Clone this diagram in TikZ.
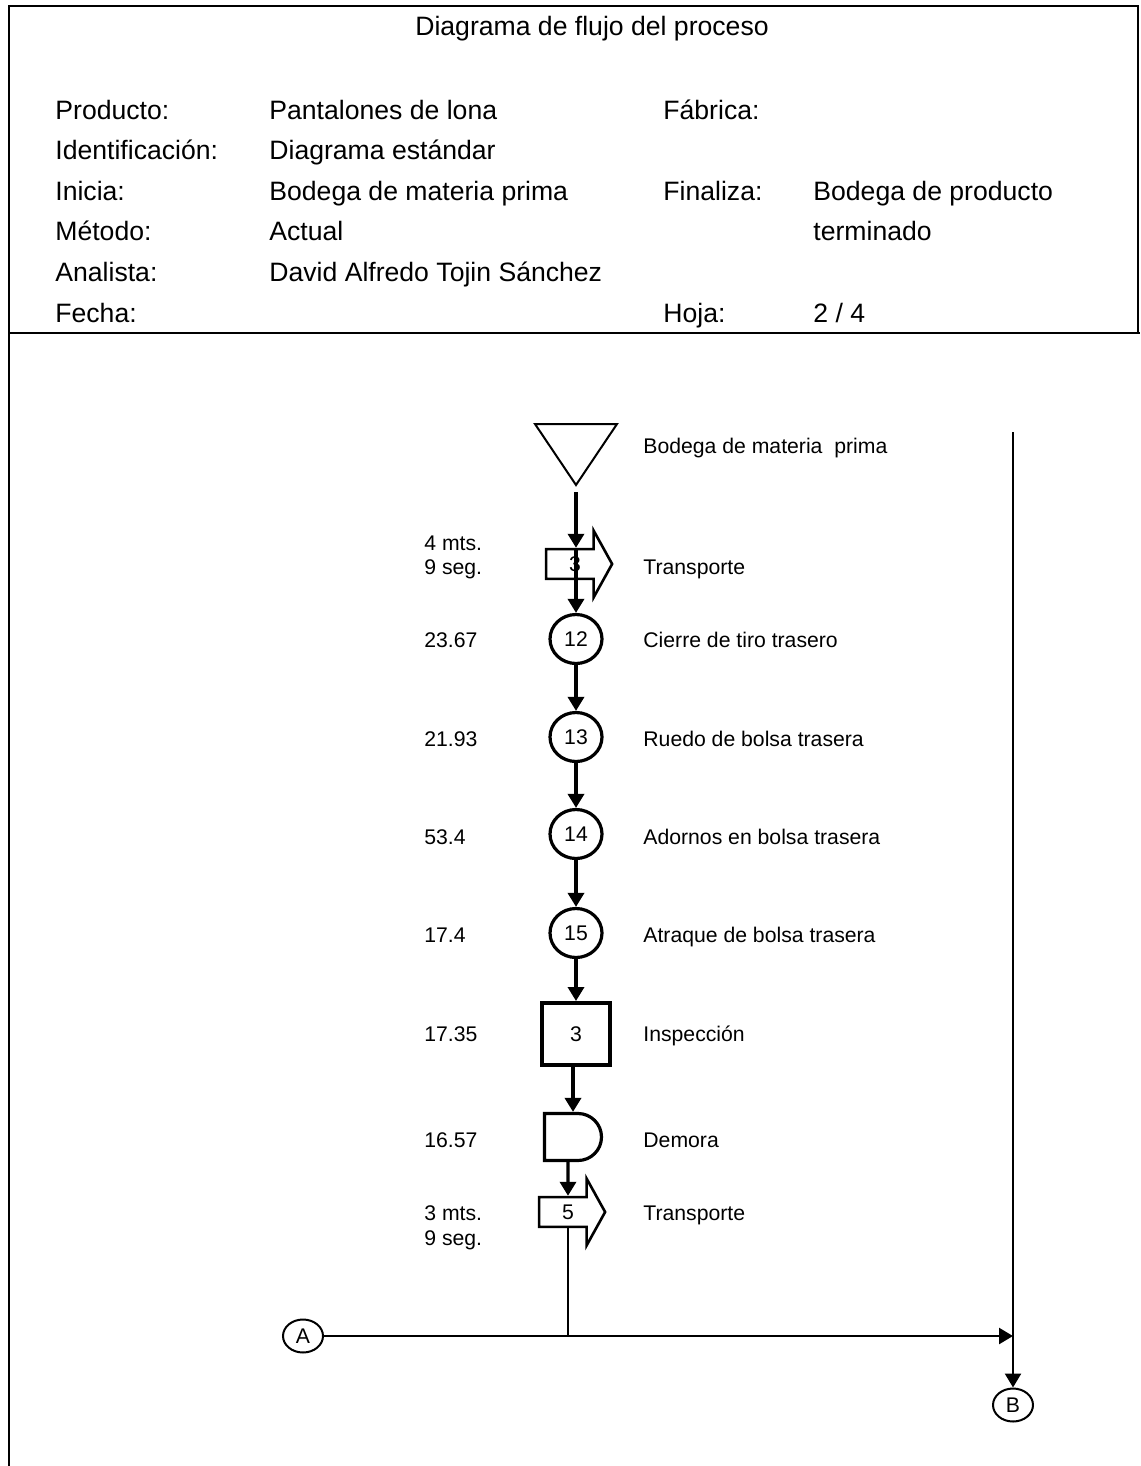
\documentclass[tikz,border=0pt]{standalone}
\usepackage{fontspec}
\setmainfont{Liberation Sans}
\usetikzlibrary{positioning,arrows.meta,shapes.geometric,shapes.arrows,shapes.misc}
\tikzset{
  frame/.style={line width=1.3pt},
  hd/.style={anchor=west,inner sep=0pt,font=\fontsize{13.3}{16}\selectfont,text height=9.5pt,text depth=0pt},
  lb/.style={anchor=west,inner sep=0pt,font=\fontsize{10.6}{13}\selectfont,text height=7.6pt,text depth=0pt},
  opn/.style={ellipse,draw,line width=1.6pt,minimum width=26pt,minimum height=24.5pt,inner sep=0pt,text height=7.6pt,text depth=0pt,font=\fontsize{10.6}{13}\selectfont},
  insp/.style={rectangle,draw,line width=2pt,minimum width=34pt,minimum height=31pt,text height=7.6pt,text depth=0pt,font=\fontsize{10.6}{13}\selectfont},
  dly/.style={rounded rectangle,rounded rectangle left arc=none,draw,line width=1.6pt,minimum width=28.5pt,minimum height=23.5pt,inner sep=0pt},
  trp/.style={single arrow,draw,line width=1.3pt,minimum height=33pt,minimum width=32pt,single arrow head extend=9.2pt,single arrow tip angle=122,inner ysep=3pt,inner xsep=2pt,text height=7.6pt,text depth=0pt,font=\fontsize{10.6}{13}\selectfont},
  stor/.style={line width=1pt},
  cnx/.style={ellipse,draw,line width=1pt,minimum width=20pt,minimum height=16.5pt,inner sep=0pt,text height=7.6pt,text depth=0pt,font=\fontsize{10.6}{13}\selectfont},
  conn/.style={line width=1.7pt,-{Triangle[length=7pt,width=8pt]}},
  tline/.style={line width=1.2pt},
  tconn/.style={tline,-{Triangle[length=7pt,width=8pt]}}
}
\begin{document}
\begin{tikzpicture}[x=0.5pt,y=-0.5pt]
  \useasboundingbox (0,0) rectangle (1140,1466);
  % frame
  \draw[frame] (9,1466) -- (9,6) -- (1138,6) -- (1138,333);
  \draw[frame] (9,333) -- (1140,333);
  % header
  \node[hd,anchor=center] (title) at (592,26) {Diagrama de flujo del proceso};
  \node[hd] (prod) at (55,110) {Producto:};
  \node[hd] (prodv) at (269,110) {Pantalones de lona};
  \node[hd] (fab) at (663,110) {Fábrica:};
  \node[hd] (ident) at (55,150) {Identificación:};
  \node[hd] (identv) at (269,150) {Diagrama estándar};
  \node[hd] (ini) at (55,191) {Inicia:};
  \node[hd] (iniv) at (269,191) {Bodega de materia prima};
  \node[hd] (fin) at (663,191) {Finaliza:};
  \node[hd] (finv) at (813,191) {Bodega de producto};
  \node[hd] (met) at (55,231) {Método:};
  \node[hd] (metv) at (269,231) {Actual};
  \node[hd] (finv2) at (813,231) {terminado};
  \node[hd] (ana) at (55,272) {Analista:};
  \node[hd] (anav) at (269,272) {David Alfredo Tojin Sánchez};
  \node[hd] (fec) at (55,313) {Fecha:};
  \node[hd] (hoja) at (663,313) {Hoja:};
  \node[hd] (hojav) at (813,313) {2 / 4};
  % symbols
  \draw[stor] (535,424) -- (617,424) -- (576,485) -- cycle;
  \coordinate (st) at (576,492);
  \node[trp] (t1) at (575,564) {3};
  \node[opn] (o12) at (576,639) {12};
  \node[opn] (o13) at (576,737) {13};
  \node[opn] (o14) at (576,834) {14};
  \node[opn] (o15) at (576,933) {15};
  \node[insp] (i3) at (576,1034) {3};
  \node[dly] (dem) at (573,1137) {};
  \node[trp] (t2) at (568,1212) {5};
  \node[cnx] (ca) at (303,1336) {A};
  \node[cnx] (cb) at (1013,1405) {B};
  \coordinate (vtop) at (1013,432);
  % connectors
  \draw[conn] (st) -- (st |- t1.north);
  \draw[conn] (t1.north -| o12) -- (o12);
  \draw[conn] (o12) -- (o13);
  \draw[conn] (o13) -- (o14);
  \draw[conn] (o14) -- (o15);
  \draw[conn] (o15) -- (i3);
  \draw[conn] (i3.south -| dem) -- (dem.north);
  \draw[conn] (dem.south -| t2) -- (t2.north);
  \draw[tline] (t2.south) -- (t2.south |- ca);
  \draw[tconn] (ca) -- (ca -| vtop);
  \draw[tconn] (vtop) -- (cb);
  % times
  \node[lb] (d1) at (424,543) {4 mts.};
  \node[lb] (s1) at (424,567) {9 seg.};
  \node[lb] (v12) at (424,640) {23.67};
  \node[lb] (v13) at (424,739) {21.93};
  \node[lb] (v14) at (424,837) {53.4};
  \node[lb] (v15) at (424,935) {17.4};
  \node[lb] (vi3) at (424,1034) {17.35};
  \node[lb] (vdem) at (424,1140) {16.57};
  \node[lb] (d2) at (424,1213) {3 mts.};
  \node[lb] (s2) at (424,1238) {9 seg.};
  % descriptions
  \node[lb] (ds) at (643,446) {Bodega de materia\ \ prima};
  \node[lb] (dt1) at (643,567) {Transporte};
  \node[lb] (d12) at (643,640) {Cierre de tiro trasero};
  \node[lb] (d13) at (643,739) {Ruedo de bolsa trasera};
  \node[lb] (d14) at (643,837) {Adornos en bolsa trasera};
  \node[lb] (d15) at (643,935) {Atraque de bolsa trasera};
  \node[lb] (di3) at (643,1034) {Inspección};
  \node[lb] (ddem) at (643,1140) {Demora};
  \node[lb] (dt2) at (643,1213) {Transporte};
\end{tikzpicture}
\end{document}
